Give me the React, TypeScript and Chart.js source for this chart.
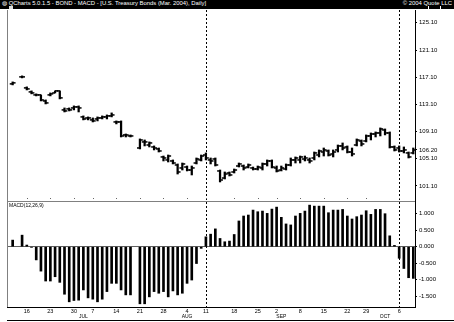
import React, { useEffect, useRef } from 'react';
import { Chart, registerables } from 'chart.js';
Chart.register(...registerables);

// ---- data (daily bars, T-Bond Mar. 2004) ----
const priceHigh = [116.62,null,117.51,115.89,115.30,114.86,114.71,113.97,115.00,115.30,115.30,112.79,112.79,113.09,113.09,111.62,111.47,111.32,111.47,111.62,111.76,112.06,110.88,110.88,108.96,108.82,null,108.23,108.08,107.79,107.20,106.90,105.72,105.87,105.14,104.55,104.69,104.25,104.25,105.43,105.87,106.17,105.43,105.43,103.66,103.37,103.37,103.81,104.69,104.40,104.55,104.10,104.25,104.69,105.14,105.14,104.25,104.25,104.55,105.43,105.58,105.72,105.72,105.43,106.31,106.61,106.90,106.61,106.61,107.34,107.64,107.20,106.90,108.23,108.08,108.82,109.11,109.26,109.85,109.70,109.26,107.20,107.20,107.05,106.31,106.90];
const priceLow = [116.18,null,117.21,115.44,114.86,114.56,113.82,113.38,114.56,115.00,114.12,112.20,112.35,112.50,112.20,111.03,111.03,110.73,110.88,111.17,111.17,111.47,110.44,108.52,108.52,108.52,null,106.76,107.20,107.05,106.61,106.31,104.99,104.84,104.55,103.07,103.66,103.52,102.93,104.55,104.99,105.14,104.55,104.25,101.90,102.34,102.78,103.22,104.10,103.66,103.96,103.66,103.66,103.66,104.25,103.96,103.37,103.52,103.66,104.25,104.69,104.69,104.99,104.69,105.14,105.58,105.72,105.72,105.58,106.31,106.61,106.17,105.72,107.20,107.20,107.79,108.08,108.52,108.67,108.82,106.90,106.46,106.31,106.17,105.43,106.02];
const priceOpen = [116.33,null,117.36,115.74,115.15,114.71,114.71,113.82,114.71,115.00,115.30,112.50,112.65,112.79,112.94,111.47,111.32,111.03,111.17,111.32,111.47,111.62,110.73,110.73,108.82,108.67,null,106.90,107.79,107.34,107.05,106.76,105.58,105.14,104.99,104.40,103.96,104.10,103.66,104.69,105.14,105.87,105.14,105.28,103.52,102.48,103.22,103.37,104.25,104.25,104.10,103.96,103.81,103.96,104.55,104.99,103.96,103.66,103.81,104.40,105.14,105.14,105.28,105.14,105.43,105.87,106.31,106.46,106.02,106.61,107.20,107.05,106.31,107.34,107.93,107.93,108.67,108.96,109.11,109.55,109.11,107.05,106.90,106.46,106.17,106.17];
const priceClose = [116.48,null,117.36,115.59,115.00,114.71,113.97,113.53,114.86,115.30,114.27,112.35,112.50,112.94,112.79,111.17,111.32,110.88,111.32,111.47,111.62,111.76,110.73,108.67,108.82,108.67,null,108.08,107.79,107.64,106.90,106.46,105.43,105.72,104.69,103.37,104.55,103.66,103.96,105.28,105.72,105.43,104.99,104.40,102.19,103.07,102.93,103.66,104.55,103.96,104.40,103.81,104.10,104.55,104.99,104.10,103.52,103.96,104.40,105.14,105.43,105.58,105.43,104.99,106.17,106.46,106.61,105.87,106.31,107.20,106.90,106.31,106.02,108.08,107.49,108.67,108.96,109.11,109.70,109.11,107.05,106.61,106.46,106.61,105.58,106.61];
const macdHist = [0.20,null,0.35,0.05,-0.02,-0.40,-0.74,-1.04,-1.04,-0.91,-1.08,-1.44,-1.67,-1.63,-1.62,-1.31,-1.55,-1.59,-1.67,-1.59,-1.36,-1.11,-1.11,-1.31,-1.46,-1.46,null,-1.73,-1.73,-1.52,-1.36,-1.41,-1.36,-1.52,-1.34,-1.46,-1.41,-1.11,-1.01,-0.51,-0.05,0.30,0.38,0.54,0.25,0.15,0.17,0.37,0.78,0.93,0.96,1.11,1.06,1.08,1.01,1.14,1.20,0.89,0.69,0.66,0.93,1.01,1.08,1.26,1.23,1.23,1.23,1.03,1.11,1.11,1.13,0.93,0.84,0.91,0.96,1.09,0.98,1.13,1.13,1.00,0.33,0.04,-0.35,-0.66,-0.94,-0.96];

const dayTickIndex = [3, 8, 13, 17, 22, 27, 32, 37, 41, 47, 52, 56, 61, 66, 71, 75, 82];
const dayTickLabels = ['16', '23', '30', '7', '14', '21', '28', '4', '11', '18', '25', '2', '8', '15', '22', '29', '6'];
const monthTickIndex = [15, 37, 57, 79];
const monthTickLabels = ['JUL', 'AUG', 'SEP', 'OCT'];
const markerIndex = [41, 82];
const priceTicks = [125.3125, 121.3125, 117.3125, 113.3125, 109.3125, 105.3125, 101.3125];
const macdTicks = [1.0, 0.5, 0, -0.5, -1.0, -1.5];

const titleText = 'QCharts 5.0.1.5 - BOND - MACD - [U.S. Treasury Bonds (Mar. 2004), Daily]';
const copyrightText = '\u00A9 2004 Quote LLC';
const macdLabel = 'MACD(12,26,9)';

const fmt32 = (v: number) => {
  const w = Math.floor(v + 1e-9);
  const t = Math.round((v - w) * 32);
  return `${w}.${String(t).padStart(2, '0')}`;
};

const framePlugin = {
  id: 'frame',
  afterDatasetsDraw(chart: any) {
    const { ctx, chartArea, scales } = chart;
    const x = scales.x, yM = scales.yM, yP = scales.yP;
    ctx.save();
    ctx.strokeStyle = '#000';
    ctx.lineWidth = 1;
    ctx.setLineDash([2, 2]);
    markerIndex.forEach((i) => {
      const px = Math.round(x.getPixelForValue(i)) + 0.5;
      ctx.beginPath();
      ctx.moveTo(px, chartArea.top);
      ctx.lineTo(px, chartArea.bottom);
      ctx.stroke();
    });
    ctx.setLineDash([]);
    ctx.strokeStyle = '#808080';
    ctx.beginPath();
    const lx = Math.round(chartArea.left) + 0.5;
    ctx.moveTo(lx, chartArea.top);
    ctx.lineTo(lx, chartArea.bottom);
    ctx.stroke();
    const sy = Math.round(yM.top) + 0.5;
    ctx.beginPath();
    ctx.moveTo(chartArea.left, sy);
    ctx.lineTo(chartArea.right, sy);
    ctx.stroke();
    ctx.fillStyle = '#666';
    dayTickIndex.forEach((i) => {
      const px = Math.round(x.getPixelForValue(i));
      ctx.fillRect(px, Math.round(yP.bottom) - 3, 1, 1);
    });
    ctx.strokeStyle = '#000';
    ctx.beginPath();
    ctx.moveTo(chartArea.left, chart.height - 1.5);
    ctx.lineTo(chart.width, chart.height - 1.5);
    ctx.stroke();
    ctx.fillStyle = '#000';
    ctx.font = '5px "Liberation Sans", Arial, sans-serif';
    ctx.textBaseline = 'top';
    ctx.fillText(macdLabel, chartArea.left + 2, yM.top + 2);
    ctx.restore();
  },
};

export default function App() {
  const ref = useRef<HTMLCanvasElement>(null);
  useEffect(() => {
    document.body.style.margin = '0';
    const idx = priceHigh.map((_, i) => i);
    const rangeData = idx.filter((i) => priceHigh[i] != null).map((i) => ({ x: i, y: [priceLow[i], priceHigh[i]] }));
    const openData = idx.filter((i) => priceOpen[i] != null).map((i) => ({ x: i - 0.3, y: priceOpen[i] }));
    const closeData = idx.filter((i) => priceClose[i] != null).map((i) => ({ x: i + 0.3, y: priceClose[i] }));
    const macdData = idx.filter((i) => macdHist[i] != null).map((i) => ({ x: i, y: macdHist[i] }));
    const lastClose = priceClose[priceClose.length - 1] as number;
    const xmin = -1.2, xmax = 85.36;
    Chart.defaults.font.family = '"Liberation Sans", Arial, sans-serif';
    const tickStyle = { showLine: false, pointStyle: 'line', pointRadius: 1.5, pointBorderWidth: 1.5, pointBorderColor: '#000', pointBackgroundColor: '#000' };
    const chart = new Chart(ref.current!, {
      type: 'bar',
      data: {
        datasets: [
          { type: 'bar', data: rangeData as any, xAxisID: 'x', yAxisID: 'yP', backgroundColor: '#000', barThickness: 1.6, grouped: false, borderWidth: 0 } as any,
          { type: 'scatter', data: openData, xAxisID: 'x', yAxisID: 'yP', ...tickStyle } as any,
          { type: 'scatter', data: closeData, xAxisID: 'x', yAxisID: 'yP', ...tickStyle } as any,
          { type: 'bar', data: macdData as any, xAxisID: 'x', yAxisID: 'yM', backgroundColor: '#000', barThickness: 2, grouped: false, borderWidth: 0 } as any,
        ],
      },
      options: {
        animation: false,
        responsive: false,
        events: [],
        layout: { padding: { left: 7, top: 10, right: 0, bottom: 0 } },
        plugins: { legend: { display: false }, tooltip: { enabled: false } },
        scales: {
          x: {
            type: 'linear', position: 'bottom', min: xmin, max: xmax, offset: false,
            grid: { display: false, drawTicks: false, offset: false }, border: { display: true, color: '#000' },
            afterBuildTicks: (ax: any) => { ax.ticks = dayTickIndex.map((v) => ({ value: v })); },
            afterFit: (s: any) => { s.height = 7; },
            ticks: { autoSkip: false, maxRotation: 0, padding: 1, color: '#000', font: { size: 5.5 },
              callback: (v: any) => { const k = dayTickIndex.indexOf(v); return k >= 0 ? dayTickLabels[k] : ''; } },
          },
          xm: {
            type: 'linear', position: 'bottom', min: xmin, max: xmax, offset: false,
            grid: { display: false, drawTicks: false, offset: false }, border: { display: false },
            afterBuildTicks: (ax: any) => { ax.ticks = monthTickIndex.map((v) => ({ value: v })); },
            afterFit: (s: any) => { s.height = 8; },
            ticks: { autoSkip: false, maxRotation: 0, padding: 0, color: '#000', font: { size: 5 },
              callback: (v: any) => { const k = monthTickIndex.indexOf(v); return k >= 0 ? monthTickLabels[k] : ''; } },
          },
          yP: {
            type: 'linear', position: 'right', stack: 'panels', stackWeight: 191, min: 99.1, max: 127.2,
            grid: { drawOnChartArea: false, tickLength: 2, tickColor: '#000' },
            border: { color: '#000' },
            afterBuildTicks: (ax: any) => { ax.ticks = [...priceTicks, lastClose].map((v) => ({ value: v })); },
            afterFit: (s: any) => { s.width = 39; },
            ticks: { autoSkip: false, padding: 2, color: '#000', font: { size: 6 }, callback: (v: any) => fmt32(Number(v)) },
          },
          yM: {
            type: 'linear', position: 'right', stack: 'panels', stackWeight: 106, min: -1.827, max: 1.385,
            grid: { color: (c: any) => (c.tick && c.tick.value === 0 ? '#606060' : 'rgba(0,0,0,0)'), tickLength: 2, tickColor: '#000' },
            border: { color: '#000' },
            afterBuildTicks: (ax: any) => { ax.ticks = macdTicks.map((v) => ({ value: v })); },
            afterFit: (s: any) => { s.width = 39; },
            ticks: { autoSkip: false, padding: 2, color: '#000', font: { size: 6 }, callback: (v: any) => Number(v).toFixed(3) },
          },
        },
      } as any,
      plugins: [framePlugin],
    });
    return () => chart.destroy();
  }, []);

  return (
    <div style={{ position: 'relative', width: 454, height: 322, background: '#fff', overflow: 'hidden' }}>
      <canvas ref={ref} width={454} height={322} style={{ position: 'absolute', left: 0, top: 0, width: 454, height: 322 }} />
      <div style={{ position: 'absolute', left: 0, top: 0, width: 454, height: 9, background: '#000', color: '#fff',
        fontFamily: '"Liberation Sans", Arial, sans-serif', fontSize: '5.9px', lineHeight: '6px', whiteSpace: 'nowrap' }}>
        <span style={{ position: 'absolute', left: 2, top: 0 }}>{'\u25CD '}{titleText}</span>
        <span style={{ position: 'absolute', right: 2, top: 0 }}>{copyrightText}</span>
        <span style={{ position: 'absolute', left: 9, top: 6, width: 4, height: 3, background: '#ddd' }} />
        <span style={{ position: 'absolute', left: 428, top: 6, width: 1, height: 3, background: '#fff' }} />
        <span style={{ position: 'absolute', left: 440, top: 6, width: 1, height: 3, background: '#fff' }} />
      </div>
    </div>
  );
}
